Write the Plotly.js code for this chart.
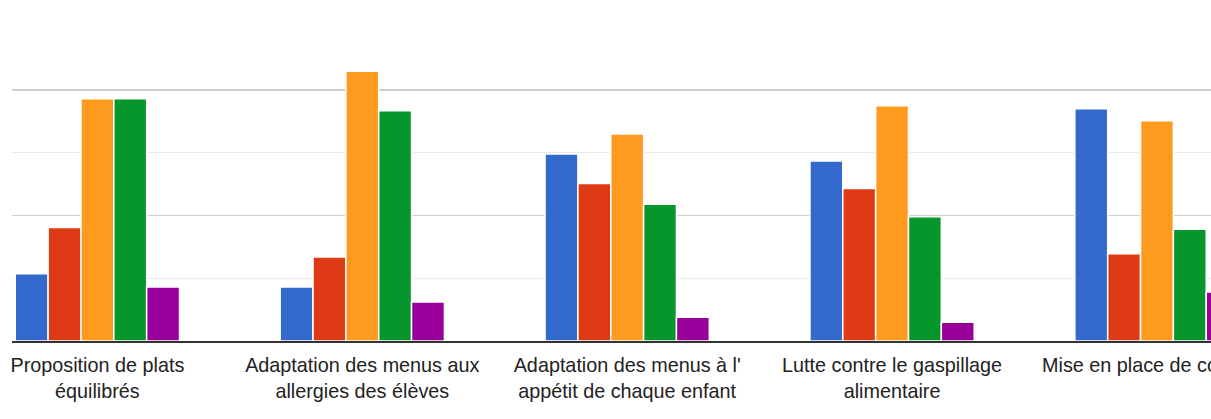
<!DOCTYPE html>
<html>
<head>
<meta charset="utf-8">
<script src="https://cdn.plot.ly/plotly-3.0.1.min.js"></script>
<style>
  html, body { margin: 0; padding: 0; background: #ffffff; }
  #chart { width: 1211px; height: 419px; }
</style>
</head>
<body>
<div id="chart"></div>
<script>
// Category labels (wrapped as in the reference)
var categories = [
  "Proposition de plats<br>équilibrés",
  "Adaptation des menus aux<br>allergies des élèves",
  "Adaptation des menus à l'<br>appétit de chaque enfant",
  "Lutte contre le gaspillage<br>alimentaire",
  "Mise en place de compost"
];

// Series values
var serie1 = [10.7, 8.6, 29.8, 28.7, 37.0];
var serie2 = [18.1, 13.4, 25.1, 24.3, 13.9];
var serie3 = [38.6, 43.0, 33.0, 37.5, 35.1];
var serie4 = [38.6, 36.7, 21.8, 19.8, 17.8];
var serie5 = [8.6, 6.2, 3.8, 3.0, 7.8];

var seriesNames = ["Série 1", "Série 2", "Série 3", "Série 4", "Série 5"];
var seriesValues = [serie1, serie2, serie3, serie4, serie5];
var colors = ["#3368cc", "#de3a16", "#fe9a1e", "#07962b", "#990099"];

var traces = seriesValues.map(function (vals, i) {
  return {
    type: "bar",
    name: seriesNames[i],
    x: categories,
    y: vals,
    marker: { color: colors[i], line: { color: "#ffffff", width: 1.5 } },
    hoverinfo: "x+y+name"
  };
});

var layout = {
  width: 1211,
  height: 419,
  margin: { l: 12, r: 0, t: 40, b: 78, pad: 0 },
  paper_bgcolor: "#ffffff",
  plot_bgcolor: "#ffffff",
  barmode: "group",
  bargap: 0.38,
  bargroupgap: 0,
  showlegend: false,
  font: { family: "Liberation Sans, Arial, sans-serif", color: "#222222", size: 19.8 },
  xaxis: {
    type: "category",
    range: [-0.3224, 4.204],
    showline: true,
    linecolor: "#333333",
    linewidth: 2,
    ticks: "",
    ticklabelstandoff: 5,
    showgrid: false,
    zeroline: false,
    fixedrange: true,
    automargin: false,
    tickfont: { family: "Liberation Sans, Arial, sans-serif", size: 19.8, color: "#222222" }
  },
  yaxis: {
    range: [0, 47.97],
    dtick: 20,
    tick0: 0,
    showticklabels: false,
    ticks: "",
    showgrid: true,
    gridcolor: "#cfcfcf",
    gridwidth: 1.6,
    zeroline: false,
    showline: false,
    fixedrange: true,
    automargin: false,
    minor: { dtick: 10, tick0: 0, showgrid: true, gridcolor: "#ebebeb", gridwidth: 1.4, ticks: "" }
  }
};

Plotly.newPlot("chart", traces, layout, { displayModeBar: false, staticPlot: true });
</script>
</body>
</html>
